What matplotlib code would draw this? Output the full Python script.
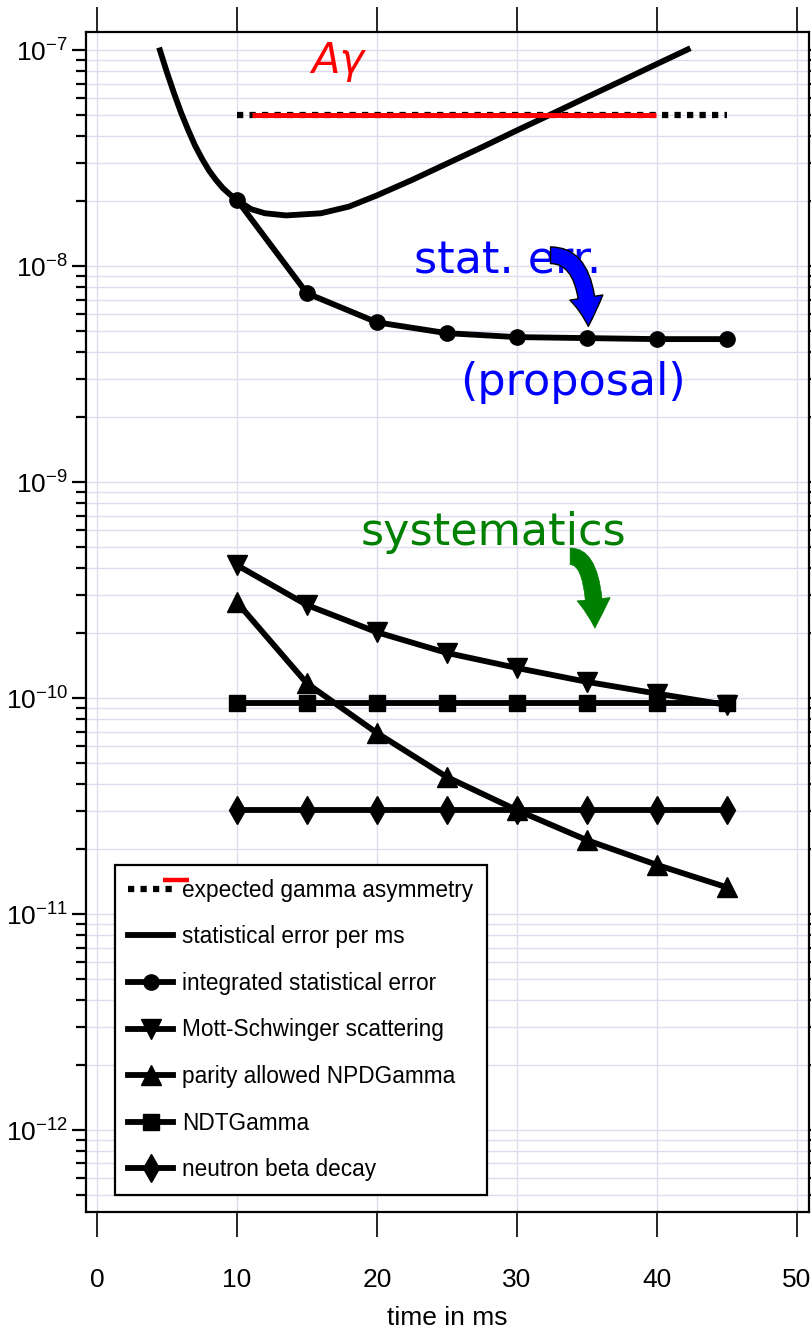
import matplotlib
matplotlib.use("Agg")
import matplotlib.pyplot as plt
from matplotlib.lines import Line2D
from matplotlib.legend_handler import HandlerLine2D
from matplotlib.patches import FancyArrowPatch
from matplotlib.ticker import MultipleLocator, NullLocator, NullFormatter

plt.rcParams['font.family'] = ['Liberation Sans', 'DejaVu Sans']

# time bins in ms
t_steps = [10, 15, 20, 25, 30, 35, 40, 45]

# statistical error per ms (smooth curve)
t_rate = [4.5, 5, 5.5, 6, 6.5, 7, 7.5, 8, 8.5, 9, 9.5, 10, 11, 12, 13.5, 16,
          18, 20, 22.5, 25, 27.5, 30, 32.5, 35, 37.5, 40, 42.2]
stat_per_ms = [1.0e-7, 7.9e-8, 6.34e-8, 5.16e-8, 4.30e-8, 3.63e-8, 3.15e-8,
               2.78e-8, 2.51e-8, 2.30e-8, 2.15e-8, 2.03e-8, 1.84e-8, 1.76e-8,
               1.72e-8, 1.76e-8, 1.89e-8, 2.13e-8, 2.51e-8, 2.99e-8, 3.56e-8,
               4.26e-8, 5.08e-8, 6.07e-8, 7.24e-8, 8.65e-8, 1.01e-7]

integrated_err = [2.03e-8, 7.5e-9, 5.5e-9, 4.9e-9, 4.7e-9, 4.65e-9, 4.6e-9, 4.6e-9]
mott_schwinger = [4.13e-10, 2.70e-10, 2.02e-10, 1.62e-10, 1.38e-10, 1.19e-10, 1.05e-10, 9.3e-11]
parity_npd = [2.78e-10, 1.17e-10, 6.9e-11, 4.31e-11, 3.03e-11, 2.2e-11, 1.69e-11, 1.33e-11]
ndt_gamma = [9.5e-11] * 8
beta_decay = [3.05e-11] * 8

# expected gamma asymmetry
t_expected = [10, 45]
a_gamma = [5.0e-8, 5.0e-8]
t_agamma_red = [11.1, 39.9]

labels = ["expected gamma asymmetry", "statistical error per ms",
          "integrated statistical error", "Mott-Schwinger scattering",
          "parity allowed NPDGamma", "NDTGamma", "neutron beta decay"]

y_lo, y_hi = 4.17e-13, 1.211e-7
decades = [-12, -11, -10, -9, -8, -7]


class DotsWithStub(HandlerLine2D):
    """dotted key with a short red bar sitting above its right end"""
    def create_artists(self, legend, orig_handle, xdescent, ydescent,
                       width, height, fontsize, trans):
        arts = super().create_artists(legend, orig_handle, xdescent, ydescent,
                                      width, height, fontsize, trans)
        yc = height / 2 - ydescent
        stub = Line2D([0.78 * width - xdescent, 1.38 * width - xdescent],
                      [yc + 0.55 * height] * 2, color='red', lw=3.2,
                      solid_capstyle='butt', transform=trans)
        return list(arts) + [stub]


fig = plt.figure(figsize=(8.11, 13.39), dpi=100)
ax = fig.add_axes([0.106, 0.0948, 0.8915, 0.881])
ax.set_yscale('log')
ax.set_xlim(-0.786, 50.86)
ax.set_ylim(y_lo, y_hi)

lw = 4.2
h_exp, = ax.plot(t_expected, a_gamma, color='black', lw=4.5,
                 ls=(0, (1, 1)), dash_capstyle='butt', zorder=3)
ax.plot(t_agamma_red, a_gamma, color='red', lw=3.6, zorder=4,
        solid_capstyle='butt')
h_rate, = ax.plot(t_rate, stat_per_ms, color='black', lw=lw, zorder=3,
                  solid_joinstyle='round')
h_int, = ax.plot(t_steps, integrated_err, color='black', lw=lw,
                 marker='o', ms=11, zorder=3)
h_mott, = ax.plot(t_steps, mott_schwinger, color='black', lw=lw,
                  marker='v', ms=15, zorder=3)
h_par, = ax.plot(t_steps, parity_npd, color='black', lw=lw,
                 marker='^', ms=15, zorder=3)
h_ndt, = ax.plot(t_steps, ndt_gamma, color='black', lw=lw,
                 marker='s', ms=12, zorder=3)
h_beta, = ax.plot(t_steps, beta_decay, color='black', lw=lw,
                  marker='d', ms=14, zorder=3)

# axes styling
for sp in ax.spines.values():
    sp.set_linewidth(1.6)
ax.xaxis.set_major_locator(MultipleLocator(10))
ax.xaxis.set_minor_locator(NullLocator())

# log ticks only inside the visible range
minor_y = [m * 10.0 ** d for d in [-13] + decades for m in range(2, 10)]
minor_y = [v for v in minor_y if y_lo <= v <= y_hi]
ax.set_yticks([10.0 ** d for d in decades])
ax.set_yticks(minor_y, minor=True)
ax.set_yticklabels([r'$\mathdefault{10^{%d}}$' % d for d in decades])
ax.yaxis.set_minor_formatter(NullFormatter())
ax.set_ylim(y_lo, y_hi)

grid_col = '#dcdcef'
ax.grid(True, which='both', axis='y', color=grid_col, lw=1.0)
ax.grid(True, which='major', axis='x', color=grid_col, lw=1.0)
ax.set_axisbelow(True)

ax.tick_params(axis='x', which='major', direction='out', length=18, width=1.2,
               top=True, bottom=True, labelsize=19, pad=22)
ax.tick_params(axis='y', which='major', direction='out', length=10, width=1.6,
               left=True, right=True, labelsize=19, pad=3)
ax.tick_params(axis='y', which='minor', direction='out', length=7, width=1.6,
               left=True, right=True)
ax.set_xlabel("time in ms", fontsize=19, labelpad=10)

leg = ax.legend([h_exp, h_rate, h_int, h_mott, h_par, h_ndt, h_beta], labels,
                loc='upper left', bbox_to_anchor=(0.04, 0.294),
                borderaxespad=0, fontsize=16.3, numpoints=1,
                handlelength=1.95, handletextpad=0.42, labelspacing=1.04,
                borderpad=0.6, fancybox=False, framealpha=1,
                edgecolor='black', handler_map={h_exp: DotsWithStub()})
leg.get_frame().set_linewidth(1.6)

# hand-written notes
note_font = 'DejaVu Sans'
ax.text(17.2, 7.83e-8, "Aγ", color='red', fontsize=30, style='italic',
        family=note_font, ha='center', va='baseline')
ax.text(29.3, 9.3e-9, "stat. err.", color='blue', fontsize=32,
        family=note_font, ha='center', va='baseline')
ax.text(34.0, 2.53e-9, "(proposal)", color='blue', fontsize=32,
        family=note_font, ha='center', va='baseline')
ax.text(28.3, 5.1e-10, "systematics", color='green', fontsize=32,
        family=note_font, ha='center', va='baseline')

arrow_style = "simple,head_length=1.3,head_width=1.5,tail_width=0.75"
ax.add_patch(FancyArrowPatch((32.4, 1.125e-8), (35.1, 5.27e-9),
                             connectionstyle="angle3,angleA=0,angleB=90",
                             arrowstyle=arrow_style, mutation_scale=16,
                             shrinkA=0, shrinkB=0, facecolor='blue',
                             edgecolor='black', lw=1.0, zorder=6))
ax.add_patch(FancyArrowPatch((33.8, 4.54e-10), (35.57, 2.11e-10),
                             connectionstyle="angle3,angleA=0,angleB=90",
                             arrowstyle=arrow_style, mutation_scale=16,
                             shrinkA=0, shrinkB=0, facecolor='green',
                             edgecolor='green', lw=0.5, zorder=6))

fig.savefig("out.png", dpi=100)
